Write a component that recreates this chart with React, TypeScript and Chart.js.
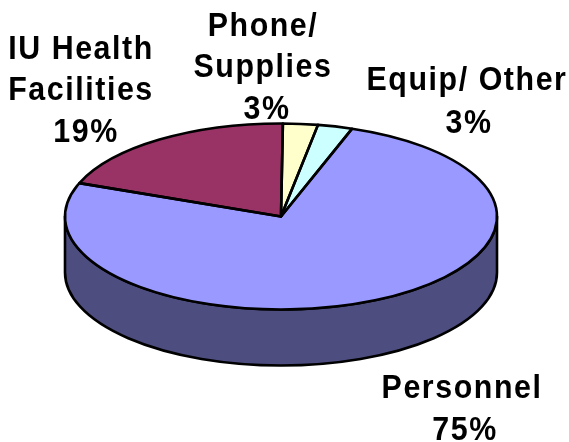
import React, { useEffect, useRef } from "react";
import { Chart, registerables } from "chart.js";

Chart.register(...registerables);

const categories = ["Phone/ Supplies", "Equip/ Other", "Personnel", "IU Health Facilities"];
const shares = [2.6, 2.6, 75.5, 19.3];
const topColors = ["#FFFFCC", "#CCFFFF", "#9999FF", "#993366"];
const sideColors = ["#80805F", "#668080", "#4D4D80", "#4D1A33"];
const labelLines = [
  ["Phone/", "Supplies", "3%"],
  ["Equip/ Other", "3%"],
  ["Personnel", "75%"],
  ["IU Health", "Facilities", "19%"],
];

const SQUASH = 93 / 216;
const DEPTH = 56;
const LINE = 2.6;
const FONT = 'bold 33px "Liberation Sans", Arial, sans-serif';
const SPACING = "1.7px";
const TEXT_WIDTH = 0.92;
const labelPlacement = [
  { cx: 263, y: [36, 77, 119], shift: [0, 0, 4] },
  { cx: 467, y: [90, 133], shift: [0, 2] },
  { cx: 462, y: [398, 440], shift: [0, 3] },
  { cx: 81, y: [59, 100, 142], shift: [0, 0, 5] },
];

const pie3d = {
  id: "pie3d",
  beforeDatasetsDraw(chart: any) {
    const ctx = chart.ctx;
    const arcs = chart.getDatasetMeta(0).data;
    const { x, y } = arcs[0];
    ctx.save();
    ctx.strokeStyle = "#000";
    ctx.lineWidth = LINE;
    ctx.lineJoin = "round";
    arcs.forEach((arc: any, i: number) => {
      const R = arc.outerRadius;
      for (const offset of [0, 2 * Math.PI]) {
        const a = Math.max(arc.startAngle - offset, 0);
        const b = Math.min(arc.endAngle - offset, Math.PI);
        if (b <= a) continue;
        ctx.beginPath();
        ctx.ellipse(x, y, R, R * SQUASH, 0, a, b);
        ctx.ellipse(x, y + DEPTH, R, R * SQUASH, 0, b, a, true);
        ctx.closePath();
        ctx.fillStyle = sideColors[i];
        ctx.fill();
        ctx.stroke();
      }
    });
    ctx.restore();
    ctx.save();
    ctx.translate(x, y);
    ctx.scale(1, SQUASH);
    ctx.translate(-x, -y);
  },
  afterDatasetsDraw(chart: any) {
    const ctx = chart.ctx;
    ctx.restore();
    const arcs = chart.getDatasetMeta(0).data;
    ctx.save();
    ctx.strokeStyle = "#000";
    ctx.lineWidth = LINE;
    ctx.lineJoin = "round";
    arcs.forEach((arc: any) => {
      const R = arc.outerRadius;
      ctx.beginPath();
      ctx.moveTo(arc.x, arc.y);
      ctx.ellipse(arc.x, arc.y, R, R * SQUASH, 0, arc.startAngle, arc.endAngle);
      ctx.closePath();
      ctx.stroke();
    });
    ctx.restore();
  },
  afterDraw(chart: any) {
    const ctx = chart.ctx;
    ctx.save();
    ctx.font = FONT;
    ctx.letterSpacing = SPACING;
    ctx.fillStyle = "#000";
    ctx.textAlign = "center";
    ctx.textBaseline = "alphabetic";
    labelLines.forEach((lines, i) => {
      const p = labelPlacement[i];
      lines.forEach((line, j) => {
        ctx.save();
        ctx.translate(p.cx + p.shift[j], p.y[j]);
        ctx.scale(TEXT_WIDTH, 1);
        ctx.fillText(line, 0, 0);
        ctx.restore();
      });
    });
    ctx.restore();
  },
};

export default function App() {
  const ref = useRef<HTMLCanvasElement>(null);
  useEffect(() => {
    const chart = new Chart(ref.current as HTMLCanvasElement, {
      type: "pie",
      data: {
        labels: categories,
        datasets: [{ data: shares, backgroundColor: topColors, borderWidth: 0 }],
      },
      options: {
        responsive: false,
        animation: false,
        events: [],
        rotation: 0.5,
        layout: { padding: { left: 65, right: 72, top: 0.5, bottom: 9.5 } },
        plugins: { legend: { display: false }, tooltip: { enabled: false }, title: { display: false } },
      },
      plugins: [pie3d],
    } as any);
    return () => chart.destroy();
  }, []);
  return (
    <canvas
      ref={ref}
      width={569}
      height={442}
      style={{ position: "absolute", left: 0, top: 0, width: 569, height: 442, background: "#fff" }}
    />
  );
}
